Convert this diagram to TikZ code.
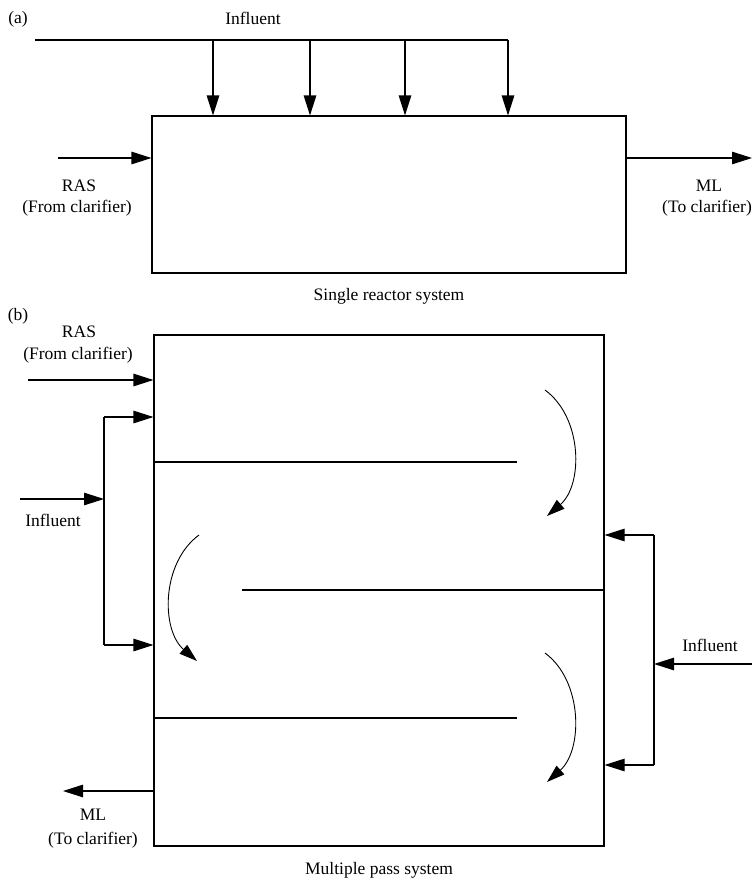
\documentclass[tikz,border=0pt]{standalone}
\usepackage{fontspec}
\setmainfont{Liberation Serif}
\usetikzlibrary{arrows.meta}
\begin{document}
\begin{tikzpicture}[x=1pt,y=-1pt,
  line width=1.1pt,
  flow/.style={-{Triangle[length=20pt,width=12.5pt]}},
  swirl/.style={line width=0.9pt,-{Triangle[length=18pt,width=11.5pt]}},
  lbl/.style={inner sep=0pt,font=\fontsize{17.5}{19}\selectfont,align=center}]
\useasboundingbox (0,0) rectangle (752,881);

% ---------------- (a) single reactor ----------------
\node[lbl] (tagA) at (18,19) {(a)};
\node[lbl] (infA) at (253,18) {Influent};
\node[draw,line width=1.1pt,minimum width=474pt,minimum height=157pt,inner sep=0pt] (boxA) at (389,194.5) {};
\coordinate (feedL) at (35,40);
\coordinate (feedR) at (508,40);
\draw (feedL) -- (feedR);
\foreach \x/\n in {213/1,310/2,405/3,508/4}{
  \coordinate (tapA\n) at (\x,40);
  \draw[flow] (tapA\n) -- (tapA\n |- boxA.north);
}
\coordinate (rasA) at (58,158);
\draw[flow] (rasA) -- (rasA -| boxA.west);
\coordinate (mlA) at (752,158);
\draw[flow] (mlA -| boxA.east) -- (mlA);
\node[lbl] (rasAt) at (79,186) {RAS};
\node[lbl] (rasAt2) at (77,208) {(From clarifier)};
\node[lbl] (mlAt) at (709,186) {ML};
\node[lbl] (mlAt2) at (707,208) {(To clarifier)};
\node[lbl] (capA) at (389,296) {Single reactor system};

% ---------------- (b) multiple pass ----------------
\node[lbl] (tagB) at (18,316) {(b)};
\node[draw,line width=1.1pt,minimum width=450pt,minimum height=511pt,inner sep=0pt] (boxB) at (379,590.5) {};
\node[lbl] (rasBt) at (79,332) {RAS};
\node[lbl] (rasBt2) at (78,355) {(From clarifier)};
\coordinate (rasB) at (28,380);
\draw[flow] (rasB) -- (rasB -| boxB.west);

% baffles
\coordinate (b1) at (517,462);
\coordinate (b2) at (242,590);
\coordinate (b3) at (517,718);
\draw (b1 -| boxB.west) -- (b1);
\draw (b2) -- (b2 -| boxB.east);
\draw (b3 -| boxB.west) -- (b3);

% left influent split
\coordinate (splitLt) at (104,417);
\coordinate (splitLb) at (104,645);
\coordinate (inL) at (20,499);
\draw (splitLt) -- (splitLb);
\draw[flow] (splitLt) -- (splitLt -| boxB.west);
\draw[flow] (splitLb) -- (splitLb -| boxB.west);
\draw[flow] (inL) -- (inL -| splitLt);
\node[lbl] (infBL) at (53,520) {Influent};

% right influent split
\coordinate (splitRt) at (654,535);
\coordinate (splitRb) at (654,765);
\coordinate (inR) at (752,664);
\draw (splitRt) -- (splitRb);
\draw[flow] (splitRt) -- (splitRt -| boxB.east);
\draw[flow] (splitRb) -- (splitRb -| boxB.east);
\draw[flow] (inR) -- (inR -| splitRt);
\node[lbl] (infBR) at (710,645) {Influent};

% mixed liquor out
\coordinate (mlB) at (63,791);
\draw[flow] (mlB -| boxB.west) -- (mlB);
\node[lbl] (mlBt) at (93,815) {ML};
\node[lbl] (mlBt2) at (93,840) {(To clarifier)};

% flow direction between passes
\coordinate (s1a) at (545,390); \coordinate (s1b) at (547,516);
\coordinate (s2a) at (199,535); \coordinate (s2b) at (197,661);
\coordinate (s3a) at (545,653); \coordinate (s3b) at (547,782);
\draw[swirl] (s1a) .. controls (583,418) and (583,485) .. (s1b);
\draw[swirl] (s2a) .. controls (161,563) and (161,630) .. (s2b);
\draw[swirl] (s3a) .. controls (583,681) and (583,750) .. (s3b);

\node[lbl] (capB) at (379,870) {Multiple pass system};
\end{tikzpicture}
\end{document}
